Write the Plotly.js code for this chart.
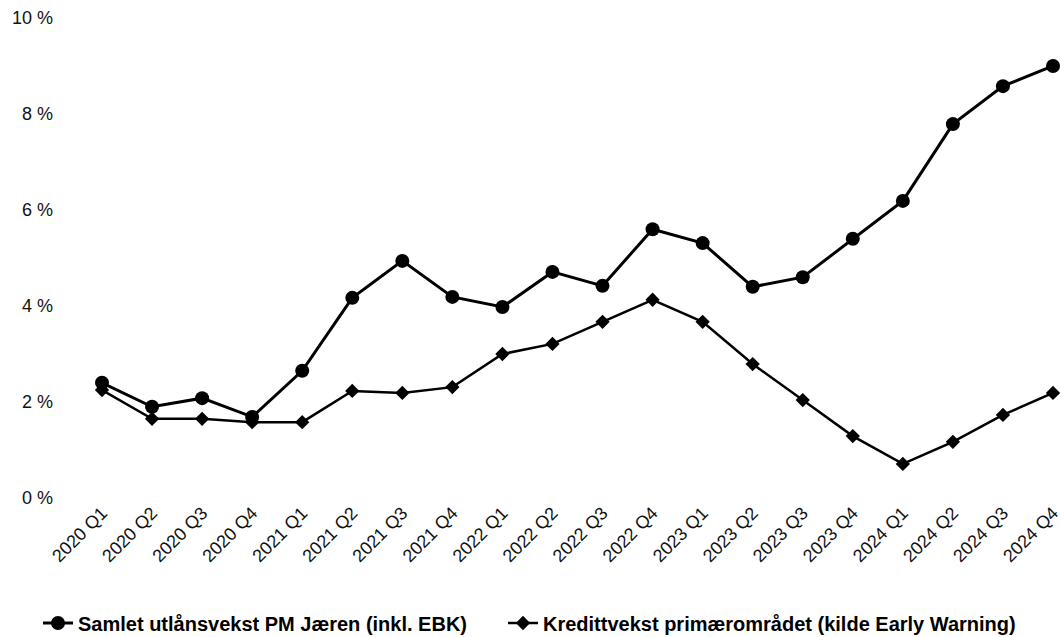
<!DOCTYPE html>
<html>
<head>
<meta charset="utf-8">
<script src="https://cdn.plot.ly/plotly-3.0.1.min.js"></script>
<style>html,body{margin:0;padding:0;background:#fff;}#chart{width:1061px;height:637px;}</style>
</head>
<body>
<div id="chart"></div>
<script>
const categories = ["2020 Q1","2020 Q2","2020 Q3","2020 Q4","2021 Q1","2021 Q2","2021 Q3","2021 Q4","2022 Q1","2022 Q2","2022 Q3","2022 Q4","2023 Q1","2023 Q2","2023 Q3","2023 Q4","2024 Q1","2024 Q2","2024 Q3","2024 Q4"];
const samletUtlansvekst = [2.40,1.90,2.08,1.69,2.65,4.17,4.94,4.19,3.98,4.71,4.42,5.60,5.31,4.40,4.60,5.40,6.19,7.79,8.58,9.00];
const kredittvekst = [2.25,1.65,1.65,1.58,1.58,2.23,2.19,2.31,3.00,3.21,3.67,4.13,3.67,2.79,2.04,1.29,0.71,1.17,1.73,2.19];
const seriesNames = ["Samlet utlånsvekst PM Jæren (inkl. EBK)","Kredittvekst primærområdet (kilde Early Warning)"];
const yTicks = [0,2,4,6,8,10];

const traces = [
  {x: categories, y: samletUtlansvekst, name: seriesNames[0], type: 'scatter', mode: 'lines+markers',
   line: {color: '#000', width: 3}, marker: {symbol: 'circle', size: 14, color: '#000'}, cliponaxis: false,
   legend: 'legend'},
  {x: categories, y: kredittvekst, name: seriesNames[1], type: 'scatter', mode: 'lines+markers',
   line: {color: '#000', width: 2.5}, marker: {symbol: 'diamond', size: 11, color: '#000'}, cliponaxis: false,
   legend: 'legend2'}
];

const legendFont = {size: 20, color: '#000', weight: 'bold'};
const layout = {
  width: 1061, height: 637,
  margin: {l: 102, r: 8, t: 18, b: 139},
  paper_bgcolor: '#fff', plot_bgcolor: '#fff',
  font: {family: 'Liberation Sans, Arial, sans-serif', color: '#111', size: 18},
  showlegend: true,
  legend: {orientation: 'h', xref: 'container', yref: 'container', x: 38/1061, y: 0.022,
           xanchor: 'left', yanchor: 'middle', font: legendFont},
  legend2: {orientation: 'h', xref: 'container', yref: 'container', x: 503/1061, y: 0.022,
           xanchor: 'left', yanchor: 'middle', font: legendFont},
  xaxis: {type: 'category', range: [0, 19], tickangle: -45, showgrid: false, zeroline: false,
          showline: false, ticks: '', tickfont: {size: 18, color: '#111'}, fixedrange: true},
  yaxis: {range: [0, 10], tickvals: yTicks, ticktext: yTicks.map(v => v + ' %'), showgrid: false,
          zeroline: false, showline: false, ticks: '', ticklabelstandoff: 48,
          tickfont: {size: 18, color: '#111'}, fixedrange: true}
};

Plotly.newPlot('chart', traces, layout, {displayModeBar: false, staticPlot: true});
</script>
</body>
</html>
